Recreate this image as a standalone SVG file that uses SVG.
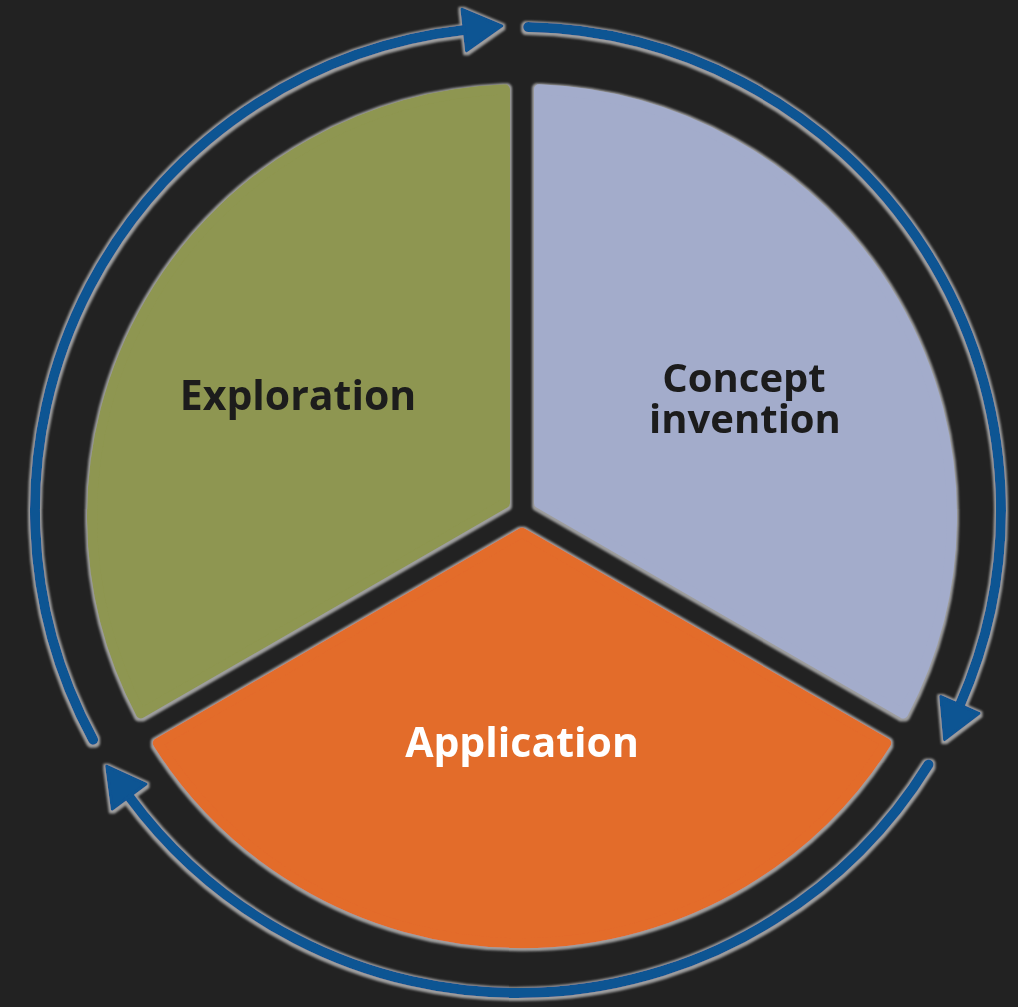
<svg xmlns="http://www.w3.org/2000/svg" width="1018" height="1007" viewBox="0 0 1018 1007">
  <style>
    .seg { stroke-width: 10; stroke-linejoin: round; }
    .label { font-family: "Open Sans", "Liberation Sans", sans-serif; font-weight: 700; font-size: 41px; text-anchor: middle; }
    .pair { font-size: 40px; }
    .dark { fill: #1c1c1c; }
    .light { fill: #ffffff; }
    .ring { fill: none; stroke: #0f5493; stroke-width: 10; stroke-linecap: round; }
  </style>
  <defs>
    <!-- soft grey rim drawn under each shape -->
    <filter id="rim" x="-10%" y="-10%" width="120%" height="120%">
      <feMorphology in="SourceAlpha" operator="dilate" radius="1.8" result="grow"/>
      <feOffset in="grow" dx="0.4" dy="1.2" result="shift"/>
      <feGaussianBlur in="shift" stdDeviation="1.1" result="soft"/>
      <feFlood flood-color="#9e9e9e"/>
      <feComposite in2="soft" operator="in" result="edge"/>
      <feMerge>
        <feMergeNode in="edge"/>
        <feMergeNode in="SourceGraphic"/>
      </feMerge>
    </filter>
    <marker id="head" markerUnits="userSpaceOnUse" viewBox="-4 -28 50 56" markerWidth="50" markerHeight="56" refX="0" refY="0" orient="auto">
      <path d="M0,-21 L38,0 L0,21 Z" fill="#0f5493" stroke="#0f5493" stroke-width="3" stroke-linejoin="round"/>
    </marker>
  </defs>

  <rect width="1018" height="1007" fill="#222222"/>

  <!-- cycle arrows around the wheel -->
  <g id="connectors" filter="url(#rim)">
    <path class="ring" d="M 93.1,739.7 A 483 483 0 0 1 464.2,30.0" marker-end="url(#head)"/>
    <path class="ring" d="M 528.1,27.1 A 483 483 0 0 1 959.9,704.9" marker-end="url(#head)"/>
    <path class="ring" d="M 928.5,764.5 A 483 483 0 0 1 129.2,796.6" marker-end="url(#head)"/>
  </g>

  <!-- wheel segments -->
  <g id="exploration" filter="url(#rim)">
    <path class="seg" d="M 505,503.2 L 140.8,713.5 A 430 427 0 0 1 505,89.3 Z" fill="#8e9651" stroke="#8e9651"/>
    <text class="label dark" x="298" y="410">Exploration</text>
  </g>
  <g id="concept-invention" filter="url(#rim)">
    <path class="seg" d="M 539,503.2 L 539,89.3 A 430 427 0 0 1 903.2,713.5 Z" fill="#a3accb" stroke="#a3accb"/>
    <text class="label pair dark"><tspan x="744" y="392">Concept</tspan><tspan x="745" y="433">invention</tspan></text>
  </g>
  <g id="application" filter="url(#rim)">
    <path class="seg" d="M 522,532.6 L 886.3,743 A 430 427 0 0 1 157.7,743 Z" fill="#e36c2a" stroke="#e36c2a"/>
    <text class="label light" x="522" y="757">Application</text>
  </g>
</svg>
